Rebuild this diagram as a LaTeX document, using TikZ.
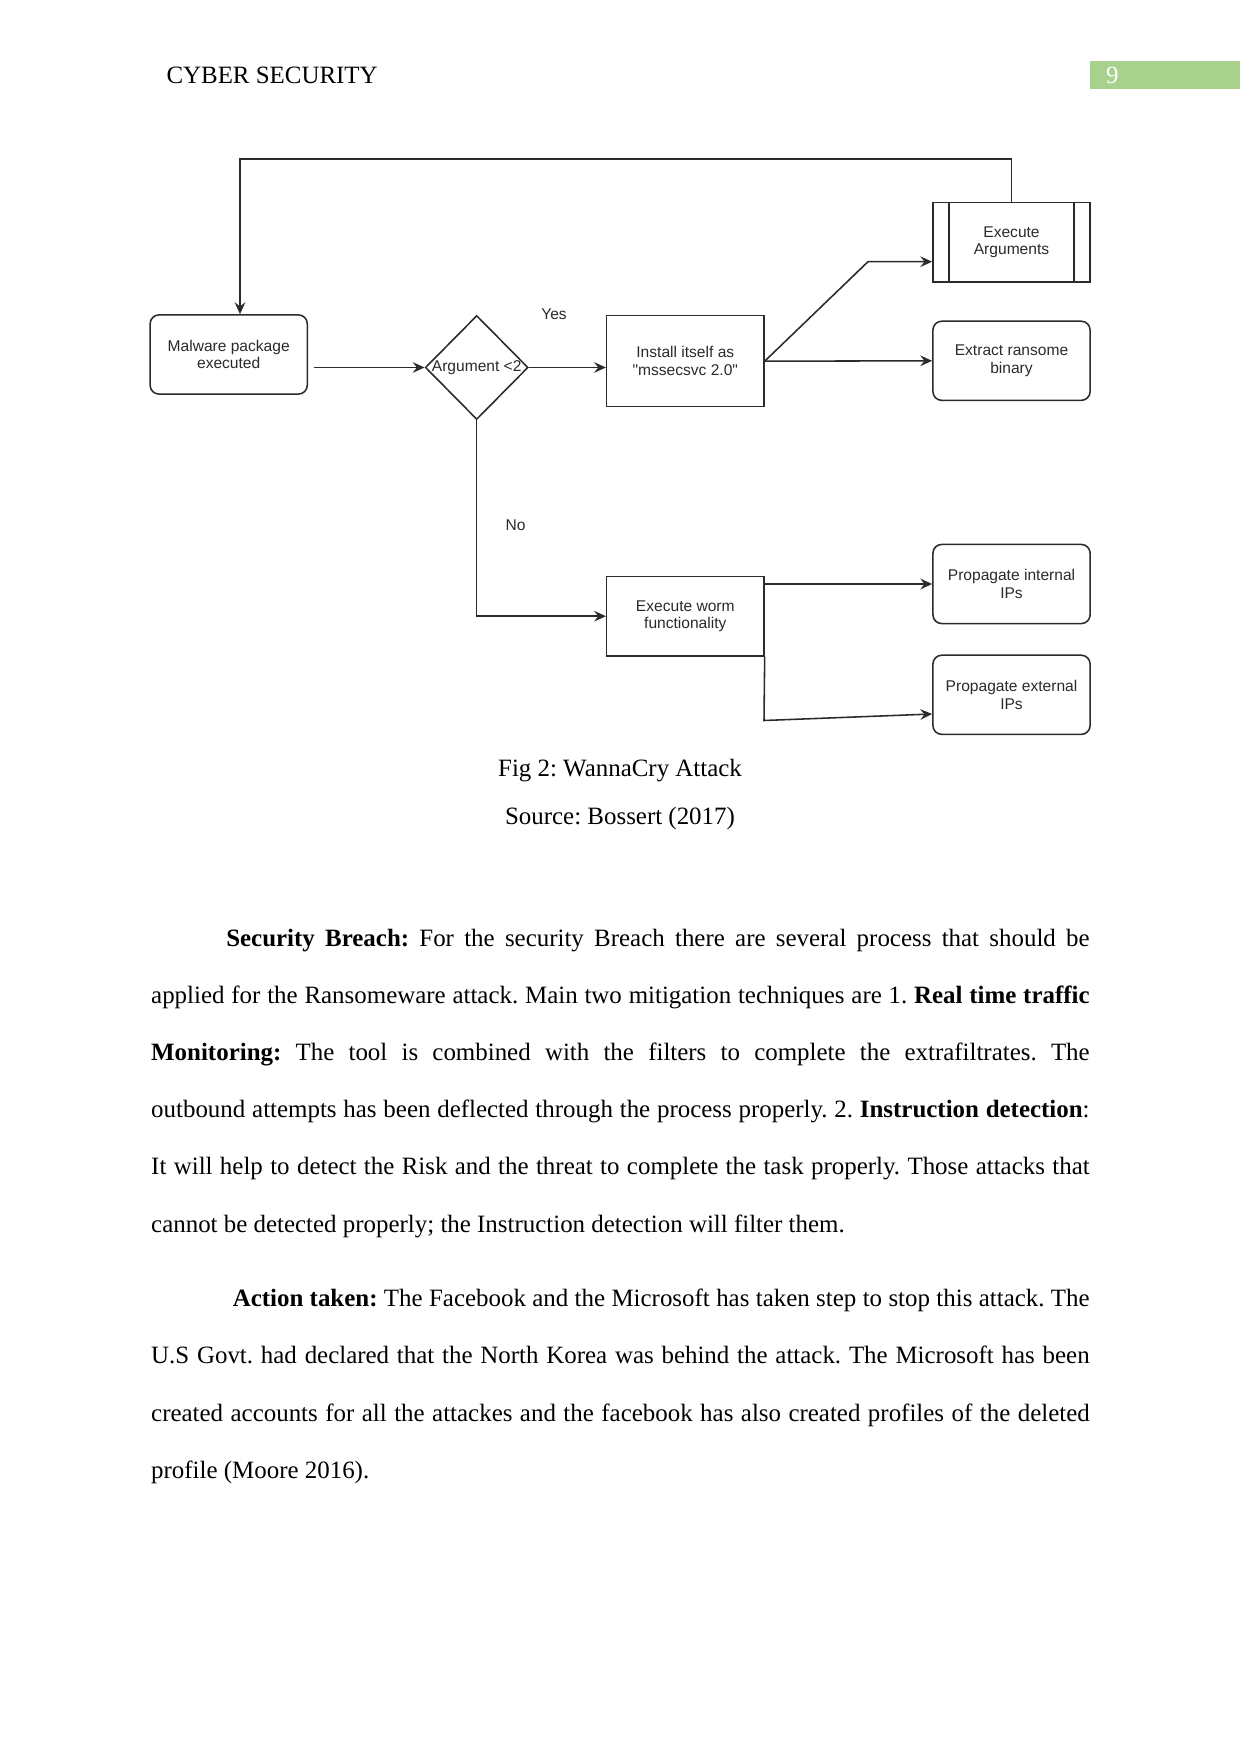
\documentclass[tikz,border=0pt]{standalone}
\usepackage{fontspec}
\setmainfont{Liberation Serif}
\newfontfamily\diagfont{Liberation Sans}
\usetikzlibrary{arrows.meta,shapes.geometric}
\frenchspacing
\definecolor{hdrgreen}{HTML}{A9D18E}
\definecolor{ink}{HTML}{2B2B2B}
\tikzset{
  >={Stealth[length=2mm,width=1.8mm,inset=0.7mm]},
  dfont/.style={font=\diagfont\fontsize{7.5}{8.6}\selectfont,text=ink},
  rbox/.style={rectangle,rounded corners=1.5mm,draw=ink,line width=0.75pt,minimum width=26.6mm,minimum height=13.4mm,align=center,inner sep=1pt,dfont},
  sbox/.style={rectangle,draw=ink,line width=0.75pt,minimum width=26.6mm,minimum height=13.4mm,align=center,inner sep=1pt,dfont},
  pbox/.style={sbox,path picture={
    \draw[ink,line width=0.75pt] ([xshift=2.7mm]path picture bounding box.north west) -- ([xshift=2.7mm]path picture bounding box.south west)
      ([xshift=-2.7mm]path picture bounding box.north east) -- ([xshift=-2.7mm]path picture bounding box.south east);}},
  dec/.style={diamond,draw=ink,line width=0.75pt,minimum width=17.4mm,minimum height=17.6mm,inner sep=0pt},
  lbl/.style={inner sep=0pt,dfont},
  con/.style={->,draw=ink,line width=0.75pt},
  body/.style={anchor=base west,inner sep=0pt,text width=158.8mm,align=justify,font=\fontsize{12}{27.56}\selectfont},
  every picture/.style={line width=0.5pt},
}

\begin{document}
\begin{tikzpicture}[x=0.16922mm,y=-0.16922mm]
\fill[white] (0,0) rectangle (1241,1754);
\useasboundingbox (0,0) rectangle (1241,1754);
% running head
\node[anchor=base west,inner sep=0pt,font=\fontsize{12}{14}\selectfont] (head) at (166,83.3) {CYBER SECURITY};
\fill[hdrgreen] (1090,61) rectangle (1240,89.5);
\node[anchor=base west,inner sep=0pt,text=white,font=\fontsize{12}{14}\selectfont] (pgno) at (1105.5,83.3) {9};
% flow chart
\node[rbox] (malware) at (228.7,354.5) {Malware package\\executed};
\node[dec,label={[lbl]center:Argument <2}] (arg) at (476.7,367.5) {};
\node[sbox,minimum height=15.4mm] (install) at (685.3,361.2) {Install itself as\\"mssecsvc 2.0"};
\node[pbox] (args) at (1011.5,242.2) {Execute\\Arguments};
\node[rbox] (extract) at (1011.5,360.8) {Extract ransome\\binary};
\node[sbox] (worm) at (685.3,616.2) {Execute worm\\functionality};
\node[rbox] (internal) at (1011.5,584) {Propagate internal\\IPs};
\node[rbox] (external) at (1011.5,694.8) {Propagate external\\IPs};
\node[lbl] (yes) at (554,314) {Yes};
\node[lbl] (no) at (515.5,525) {No};
\coordinate (loop) at (240,159); \coordinate (bend1) at (868,261.7); \coordinate (bend2) at (764,720.5);
\draw[con,shorten <=1mm] (malware.east |- arg.west) -- (arg.west);
\draw[con] (arg.east) -- (arg.east -| install.west);
\draw[con] (install.east) -- (bend1) -- ([yshift=-3.3mm]args.west);
\draw[con] (install.east) -- (extract.west);
\draw[con] (args.north) |- (loop) -- (loop |- malware.north);
\draw[con] (arg.south) |- (worm.west);
\draw[con] (worm.east |- internal.west) -- (internal.west);
\draw[con] (worm.south east) -- (bend2) -- ([yshift=-3.25mm]external.west);
% captions
\node[anchor=base,inner sep=0pt,font=\fontsize{12}{14}\selectfont] (fig) at (620,776.7) {Fig 2: WannaCry Attack};
\node[anchor=base,inner sep=0pt,font=\fontsize{12}{14}\selectfont] (src) at (620,824) {Source: Bossert (2017)};
% body text
\node[body] (para1) at (150.7,946) {\fontsize{12}{27.56}\selectfont\tolerance=10000\hbadness=10000\hyphenpenalty=10000%
\hspace*{12.7mm}\textbf{Security Breach:} For the security Breach there are several process that should be\linebreak
applied for the Ransomeware attack. Main two mitigation techniques are 1. \textbf{Real time traffic}\linebreak
\textbf{Monitoring:} The tool is combined with the filters to complete the extrafiltrates. The\linebreak
outbound attempts has been deflected through the process properly. 2. \textbf{Instruction detection}:\linebreak
It will help to detect the Risk and the threat to complete the task properly. Those attacks that\linebreak
cannot be detected properly; the Instruction detection will filter them.};
\node[body] (para2) at (150.7,1306.7) {\fontsize{12}{27.56}\selectfont\tolerance=10000\hbadness=10000\hyphenpenalty=10000%
\hspace*{13.8mm}\textbf{Action taken:} The Facebook and the Microsoft has taken step to stop this attack. The\linebreak
U.S Govt. had declared that the North Korea was behind the attack. The Microsoft has been\linebreak
created accounts for all the attackes and the facebook has also created profiles of the deleted\linebreak
profile (Moore 2016).};
\end{tikzpicture}
\end{document}
